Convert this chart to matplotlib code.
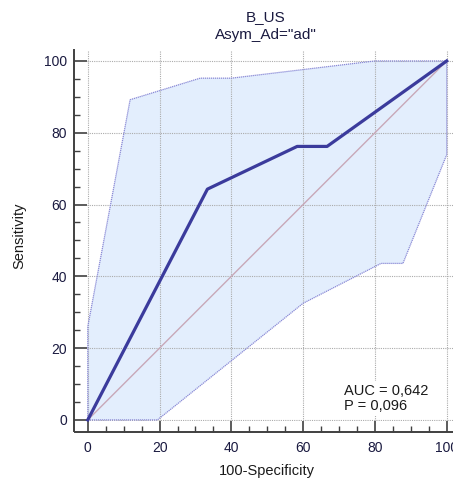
import matplotlib
matplotlib.use("Agg")
import matplotlib.pyplot as plt
import numpy as np

plt.rcParams['font.family'] = ['Liberation Sans', 'DejaVu Sans']

# ROC curve (100-Specificity, Sensitivity)
roc_x = [0, 33.33, 58.33, 66.67, 100]
roc_y = [0, 64.29, 76.19, 76.19, 100]

# confidence band, upper and lower edges
upper_x = [0, 0, 11.8, 31.3, 40, 80, 100]
upper_y = [0, 26, 89.2, 95.2, 95.2, 100, 100]
lower_x = [0, 19.4, 60, 81.7, 87.8, 100, 100]
lower_y = [0, 0, 32.5, 43.6, 43.6, 73.9, 100]

auc_txt = "AUC = 0,642\nP = 0,096"
ticks = [0, 20, 40, 60, 80, 100]

fig = plt.figure(figsize=(4.53, 4.8), dpi=100)
ax = fig.add_axes([86.7/453, 59/480, (453-86.7)/453, 371/480])
ax.set_xlim(-0.3, 101.75)
ax.set_ylim(-0.3, 103.05)

# band polygon: upper edge forward then lower edge back
poly_x = upper_x + lower_x[::-1]
poly_y = upper_y + lower_y[::-1]
ax.fill(poly_x, poly_y, color='#e3eefd', lw=0, zorder=1, clip_on=False)
ax.plot(upper_x, upper_y, color='#8a8ad6', lw=0.9, ls=(0, (1, 0.6)), clip_on=False, zorder=3)
ax.plot(lower_x, lower_y, color='#8a8ad6', lw=0.9, ls=(0, (1, 0.6)), clip_on=False, zorder=3)

ax.plot([0, 100], [0, 100], color='#c8a8b8', lw=1.0, zorder=3)
ax.plot(roc_x, roc_y, color='#3b3b9c', lw=2.3, zorder=4, clip_on=False)

ax.set_axisbelow('line')
ax.grid(True, which='major', color='#ababab', ls=(0, (1, 1)), lw=0.8)

ax.set_xticks(ticks)
ax.set_yticks(ticks)
ax.set_xticks(np.arange(0, 101, 5), minor=True)
ax.set_yticks(np.arange(0, 101, 5), minor=True)

for s in ['top', 'right']:
    ax.spines[s].set_visible(False)
ax.spines['left'].set_position(('outward', 9.1))
ax.spines['bottom'].set_position(('outward', 7.7))
ax.spines['left'].set_bounds(-2.97, 103.05)
ax.spines['bottom'].set_bounds(-3.5, 101.75)
for s in ['left', 'bottom']:
    ax.spines[s].set_color('#404040')
    ax.spines[s].set_linewidth(1.4)

ax.tick_params(axis='y', which='major', direction='in', length=9.1, width=1.2,
               color='#404040', labelsize=10, labelcolor='#1a1a40', pad=5)
ax.tick_params(axis='x', which='major', direction='in', length=7.7, width=1.2,
               color='#404040', labelsize=10, labelcolor='#1a1a40', pad=7)
ax.tick_params(which='minor', direction='in', length=4, width=1.0, color='#404040')

ax.set_xlabel('100-Specificity', fontsize=10.5, color='#1a1a1a', labelpad=4)
ax.set_ylabel('Sensitivity', fontsize=10.5, color='#1a1a1a', labelpad=13)
ax.xaxis.set_label_coords(0.5 - 1.75/102.05/2, -0.115)

ax.text(71.5, 2.0, auc_txt, fontsize=10.5, color='#1a1a1a', va='bottom', ha='left',
        linespacing=1.1, zorder=5,
        bbox=dict(facecolor='white', edgecolor='none', pad=2))

fig.text(266/453, 1 - 17/480, 'B_US', ha='center', va='center', fontsize=11, color='#1a1a40')
fig.text(266/453, 1 - 35/480, 'Asym_Ad="ad"', ha='center', va='center', fontsize=11, color='#1a1a40')

fig.savefig('out.png', dpi=100)
